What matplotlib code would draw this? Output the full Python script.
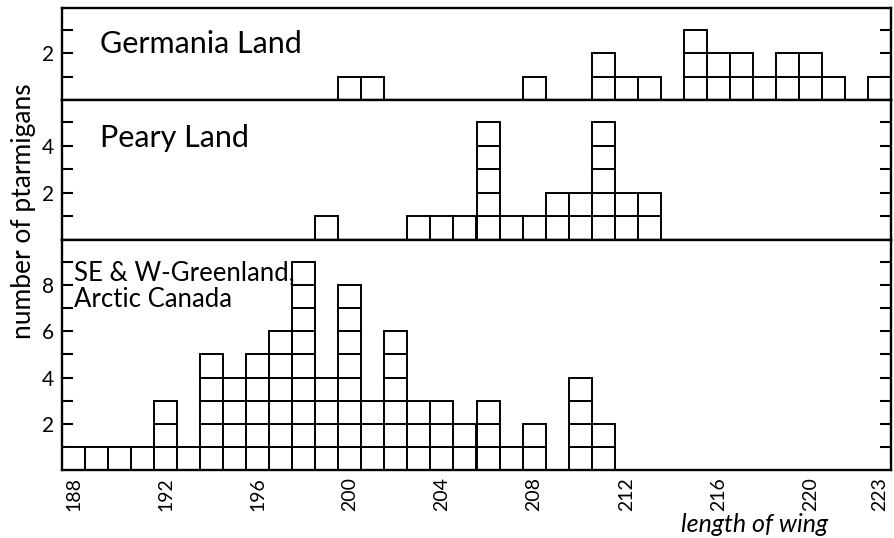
import matplotlib
matplotlib.use("Agg")
import matplotlib.pyplot as plt
import numpy as np

# wing length classes (mm)
wing = list(range(188, 224))
# number of ptarmigans per wing-length class
germania = [0, 0, 0, 0, 0, 0, 0, 0, 0, 0, 0, 0,
            1, 1, 0, 0, 0, 0, 0, 0, 1, 0, 0, 2,
            1, 1, 0, 3, 2, 2, 1, 2, 2, 1, 0, 1]
peary = [0, 0, 0, 0, 0, 0, 0, 0, 0, 0, 0, 1,
         0, 0, 0, 1, 1, 1, 5, 1, 1, 2, 2, 5,
         2, 2, 0, 0, 0, 0, 0, 0, 0, 0, 0, 0]
greenland = [1, 1, 1, 1, 3, 1, 5, 4, 5, 6, 9, 4,
             8, 3, 6, 3, 3, 2, 3, 1, 2, 0, 4, 2,
             0, 0, 0, 0, 0, 0, 0, 0, 0, 0, 0, 0]

panel_names = ["Germania Land", "Peary Land", "SE & W-Greenland,\nArctic Canada"]
xtick_vals = [188, 192, 196, 200, 204, 208, 212, 216, 220, 223]

plt.rcParams['font.family'] = ['Lato', 'DejaVu Sans']

W, H = 894, 538
fig = plt.figure(figsize=(W / 100, H / 100), dpi=100)

left, right = 62, 891
panels = [
    (germania, 8, 100, 3.95, [1, 2, 3], [2]),
    (peary, 100, 240, 5.93, [1, 2, 3, 4, 5], [2, 4]),
    (greenland, 240, 470, 9.95, list(range(1, 10)), [2, 4, 6, 8]),
]
# text anchor (x px, top y px) and size per panel
text_pos = [(100, 30, 22), (100, 124, 22), (74, 260, 18.5)]

axes = []
for i, (vals, ytop, ybot, ymax, ticks, labeled) in enumerate(panels):
    ax = fig.add_axes([left / W, 1 - ybot / H, (right - left) / W, (ybot - ytop) / H])
    axes.append(ax)
    for x, n in zip(wing, vals):
        for k in range(n):
            ax.bar(x, 1, bottom=k, width=1.0, facecolor='white',
                   edgecolor='black', linewidth=1.4, zorder=2)
    ax.set_xlim(187.5, 223.5)
    ax.set_ylim(0, ymax)
    for sp in ax.spines.values():
        sp.set_linewidth(1.7)
        sp.set_color('black')
    ax.set_yticks(ticks)
    ax.set_yticklabels([str(t) if t in labeled else '' for t in ticks],
                       fontsize=15)
    ax.tick_params(axis='y', direction='in', length=8, width=1.5,
                   left=True, right=True, pad=6)
    ax.tick_params(axis='x', length=0)
    if i < 2:
        ax.set_xticks([])
    tx, ty, ts = text_pos[i]
    fig.text(tx / W, 1 - ty / H, panel_names[i], fontsize=ts,
             ha='left', va='top', linespacing=1.1, color='black')

ax = axes[2]
ax.set_xticks(xtick_vals)
ax.set_xticklabels([str(v) for v in xtick_vals], rotation=90, fontsize=14)
ax.tick_params(axis='x', length=0, pad=5)

fig.text(755 / W, 1 - 525 / H, "length of wing", fontsize=18, style='italic',
         ha='center', va='center', color='black')
fig.text(24 / W, 1 - 211 / H, "number of ptarmigans", fontsize=19,
         rotation=90, ha='center', va='center', color='black')

fig.savefig("out.png", dpi=100, facecolor='white')
